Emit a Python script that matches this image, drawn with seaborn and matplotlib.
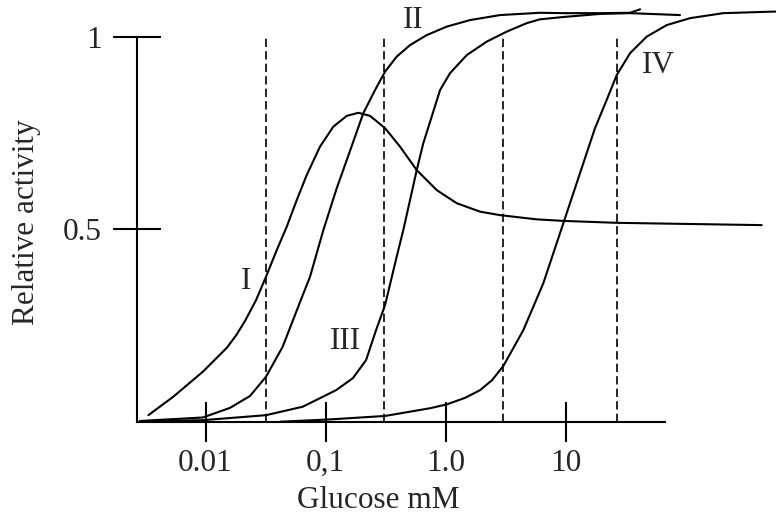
import seaborn as sns
import matplotlib.pyplot as plt
import pandas as pd

# curve I: rises to a peak then settles near 0.5
conc_1 = [0.00334, 0.00539, 0.0095, 0.01503, 0.01795, 0.02134, 0.02636, 0.03192, 0.0392,
          0.04753, 0.05754, 0.06966, 0.08995, 0.1161, 0.1503, 0.1876, 0.235, 0.3133,
          0.4178, 0.5754, 0.845, 1.239, 1.939, 2.844, 5.754, 9.59, 26.7, 431.5]
act_1 = [0.017, 0.065, 0.130, 0.192, 0.224, 0.262, 0.316, 0.377, 0.446,
         0.507, 0.576, 0.641, 0.715, 0.767, 0.795, 0.803, 0.795, 0.763,
         0.715, 0.654, 0.602, 0.568, 0.546, 0.537, 0.526, 0.522, 0.517, 0.511]

# curve II
conc_2 = [0.00285, 0.0095, 0.016, 0.0235, 0.03192, 0.04395, 0.0613, 0.0743, 0.0959,
          0.124, 0.16, 0.2065, 0.2585, 0.3133, 0.3917, 0.506, 0.697, 1.023, 1.6, 2.844,
          6.131, 9.59, 19.4, 34.5, 41.8]
act_2 = [0.002, 0.011, 0.036, 0.067, 0.117, 0.195, 0.311, 0.377, 0.498,
         0.607, 0.704, 0.802, 0.862, 0.91, 0.949, 0.979, 1.005, 1.027, 1.044, 1.057,
         1.063, 1.062, 1.062, 1.063, 1.072]

# curve III
conc_3 = [0.00285, 0.0095, 0.03192, 0.0646, 0.1224, 0.1687, 0.2176, 0.2636, 0.3133,
          0.3917, 0.4446, 0.506, 0.5754, 0.653, 0.767, 0.9, 1.09, 1.503, 2.205, 3.236,
          4.75, 6.131, 9.59, 19.4, 34.5, 90.0]
act_3 = [0.001, 0.004, 0.017, 0.039, 0.082, 0.113, 0.160, 0.238, 0.303,
         0.429, 0.498, 0.576, 0.654, 0.724, 0.793, 0.862, 0.906, 0.953, 0.988, 1.014,
         1.036, 1.046, 1.052, 1.06, 1.062, 1.057]

# curve IV
conc_4 = [0.04178, 0.109, 0.3133, 0.743, 1.023, 1.454, 1.939, 2.441, 3.034, 4.449,
          6.531, 9.59, 13.2, 17.6, 22.0, 26.7, 34.5, 47.5, 69.7, 109.0, 206.5, 534.0,
          567.0]
act_4 = [0.0, 0.006, 0.015, 0.035, 0.045, 0.062, 0.082, 0.108, 0.145, 0.238,
         0.36, 0.516, 0.646, 0.763, 0.836, 0.901, 0.958, 1.001, 1.031, 1.049, 1.062,
         1.066, 1.066]

curve_names = ['I', 'II', 'III', 'IV']
label_x = [0.0219, 0.536, 0.1454, 59.0]
label_y = [0.364, 1.044, 0.208, 0.927]

dashed_x = [0.032, 0.31, 3.0, 27.0]

x_ticks = [0.01, 0.1, 1.0, 10.0]
x_tick_labels = ['0.01', '0,1', '1.0', '10']
y_ticks = [0.5, 1.0]
y_tick_labels = ['0.5', '1']

frames = []
for name, xs, ys in zip(curve_names, [conc_1, conc_2, conc_3, conc_4],
                        [act_1, act_2, act_3, act_4]):
    frames.append(pd.DataFrame({'glucose': xs, 'activity': ys, 'curve': name}))
df = pd.concat(frames, ignore_index=True)

sns.set_theme(style='white')
plt.rcParams['font.family'] = ['Liberation Serif', 'DejaVu Serif']

fig = plt.figure(figsize=(7.76, 5.17), dpi=100)
ax = fig.add_axes([0.1762, 0.1843, 0.8238, 0.8157])
ax.set_xscale('log')

sns.lineplot(data=df, x='glucose', y='activity', units='curve', estimator=None,
             color='black', linewidth=1.5, ax=ax, clip_on=False)

for xv in dashed_x:
    ax.plot([xv, xv], [0, 1.0], color='black', linestyle=(0, (5, 2.5)), linewidth=1.2)

for name, lx, ly in zip(curve_names, label_x, label_y):
    ax.text(lx, ly, name, ha='center', va='center', fontsize=22.5)

ax.set_xlim(0.002671, 567.5)
ax.set_ylim(0, 1.0962)

for side in ['top', 'right']:
    ax.spines[side].set_visible(False)
for side in ['left', 'bottom']:
    ax.spines[side].set_color('black')
    ax.spines[side].set_linewidth(1.5)
ax.spines['left'].set_bounds(0, 1.0)
ax.spines['bottom'].set_bounds(0.002671, 67.5)

ax.set_xticks(x_ticks)
ax.set_xticklabels(x_tick_labels)
ax.xaxis.set_minor_locator(plt.NullLocator())
ax.set_yticks(y_ticks)
ax.set_yticklabels(y_tick_labels)

ax.tick_params(axis='x', direction='inout', length=28.8, width=1.5, color='black',
               labelsize=22.5, pad=5, bottom=True)
ax.tick_params(axis='y', direction='inout', length=34.6, width=1.5, color='black',
               labelsize=22.5, pad=8, left=True)

ax.set_xlabel('Glucose mM', fontsize=22.5)
ax.set_ylabel('Relative activity', fontsize=22.5)
ax.xaxis.label.set_va('center')
ax.xaxis.set_label_coords(0.3775, -0.1857)
ax.yaxis.label.set_va('center')
ax.yaxis.set_label_coords(-0.172, 0.4736)

fig.savefig('out.png', dpi=100)
plt.close(fig)
